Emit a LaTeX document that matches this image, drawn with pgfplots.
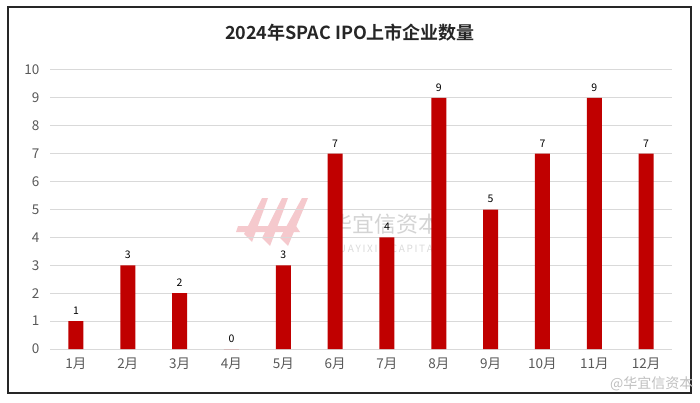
\documentclass[border=0pt]{standalone}
\usepackage{pgfplots}
\pgfplotsset{compat=1.18}
\usepackage{fontspec}
\setmainfont{Noto Sans CJK SC}
\newfontfamily\cjkbold{Noto Sans CJK SC Bold}
\definecolor{barRed}{HTML}{C00000}
\definecolor{tickGray}{HTML}{595959}
\definecolor{gridGray}{HTML}{D9D9D9}
\definecolor{wmPink}{HTML}{F5C9CD}

\begin{document}
\begin{tikzpicture}
% page and frame (image pixel coordinates in pt, y up)
\fill[white] (0pt,0pt) rectangle (700pt,402pt);
\draw[line width=2pt, black!85] (8pt,9pt) rectangle (691pt,395pt);
\node[font=\cjkbold\fontsize{18}{21}\selectfont, text=black!85] at (350pt,369pt) {2024年SPAC IPO上市企业数量};

%--- watermark (behind bars)
\begin{scope}[wmPink]
  \fill (244pt,168pt) -- (262pt,204pt) -- (268pt,204pt) -- (252pt,160pt) -- cycle;
  \fill (262pt,164pt) -- (282pt,204pt) -- (288pt,204pt) -- (270pt,156pt) -- cycle;
  \fill (280pt,164pt) -- (302pt,204pt) -- (308pt,204pt) -- (288pt,156pt) -- cycle;
  \fill (238pt,176pt) -- (296pt,176pt) -- (300pt,170pt) -- (236pt,170pt) -- cycle;
\end{scope}
\node[text=black!17, font=\fontsize{22}{24}\selectfont] at (385pt,178pt) {华宜信资本};
\node[text=black!14, font=\fontsize{10}{12}\selectfont] at (385pt,153pt) {H\,U\,A\,Y\,I\,X\,I\,N\ \ C\,A\,P\,I\,T\,A\,L};

\begin{axis}[
  at={(50pt,53pt)}, anchor=south west,
  scale only axis,
  width=622pt, height=279pt,
  ybar, bar width=15pt,
  xmin=-0.5, xmax=11.5,
  ymin=0, ymax=10,
  xtick=data,
  xticklabels={1月,2月,3月,4月,5月,6月,7月,8月,9月,10月,11月,12月},
  ytick={0,1,...,10},
  axis line style={draw=none},
  major tick length=0pt,
  ymajorgrids=true,
  grid style={gridGray, line width=1pt},
  ticklabel style={font=\fontsize{13.5}{15}\selectfont, text=tickGray},
  /pgf/number format/assume math mode=true,
  yticklabel style={xshift=-7pt},
  xticklabel style={yshift=-5pt},
  nodes near coords,
  every node near coord/.append style={font=\fontsize{10.5}{12}\selectfont, text=black, yshift=3pt},
  clip=false,
]
\addplot[fill=barRed, draw=none] coordinates {
  (0,1) (1,3) (2,2) (3,0) (4,3) (5,7) (6,4) (7,9) (8,5) (9,7) (10,9) (11,7)
};
\end{axis}

% weibo watermark
\node[text=black!25, font=\fontsize{14}{16}\selectfont, anchor=east] at (697pt,18pt) {@华宜信资本};
\end{tikzpicture}
\end{document}
